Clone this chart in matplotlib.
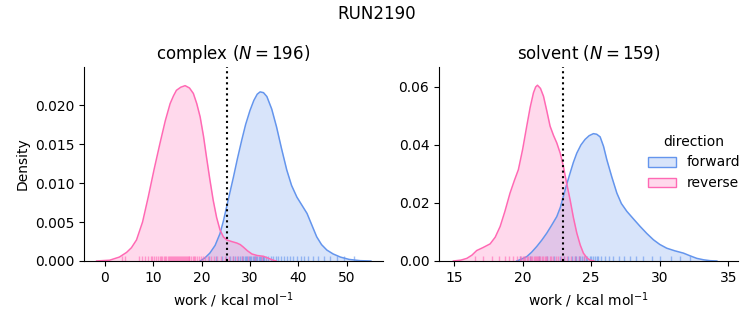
import numpy as np
import matplotlib.pyplot as plt
from matplotlib.colors import to_rgb
from matplotlib.patches import Patch

# density curves (x = work, y = density)
cx_fwd = [19.7, 20.7, 21.7, 22.8, 23.8, 24.5, 25.2, 25.9, 26.6, 27.4, 28.3, 29.1, 30.0, 30.8,
          31.5, 32.1, 32.8, 33.5, 34.5, 35.5, 36.5, 37.6, 38.6, 39.7, 40.8, 41.8, 42.8, 43.8,
          44.8, 45.9, 47.2, 48.7, 50.5, 52.8, 55.0]
cy_fwd = [0.0, 0.0004, 0.0010, 0.0020, 0.0035, 0.0051, 0.0070, 0.0089, 0.0108, 0.0131, 0.0155,
          0.0175, 0.0193, 0.0206, 0.0214, 0.0217, 0.0216, 0.0211, 0.0195, 0.0172, 0.0145, 0.0117,
          0.0097, 0.0082, 0.0071, 0.0061, 0.0046, 0.0031, 0.0021, 0.0014, 0.0009, 0.0005, 0.0002,
          0.00004, 0.0]
cx_rev = [-1.7, 1.0, 3.0, 4.5, 5.5, 6.55, 7.8, 8.97, 10.2, 11.4, 12.5, 13.5, 14.2, 14.8, 15.7,
          16.6, 17.5, 18.3, 19.0, 19.7, 20.4, 21.0, 21.7, 22.4, 23.1, 23.8, 24.5, 25.2, 26.2,
          27.3, 28.0, 28.6, 29.5, 30.4, 31.5, 32.8, 34.0, 34.8, 35.4]
cy_rev = [0.0, 0.0001, 0.0005, 0.0011, 0.0017, 0.0027, 0.0050, 0.0082, 0.0118, 0.0151, 0.0180,
          0.0202, 0.0212, 0.0219, 0.0223, 0.0225, 0.0222, 0.0215, 0.0202, 0.0185, 0.0160, 0.0134,
          0.0105, 0.0078, 0.0056, 0.0040, 0.0031, 0.0027, 0.0025, 0.0023, 0.0021, 0.0018, 0.0013,
          0.0009, 0.0007, 0.0006, 0.0003, 0.0001, 0.0]

sx_fwd = [19.57, 19.9, 20.30, 20.65, 21.03, 21.4, 21.76, 22.1, 22.49, 22.75, 22.97, 23.2, 23.46,
          23.7, 23.95, 24.25, 24.55, 24.85, 25.16, 25.4, 25.65, 25.9, 26.14, 26.5, 26.87, 27.2,
          27.60, 28.1, 28.57, 29.05, 29.54, 30.0, 30.51, 31.1, 31.73, 32.2, 32.70, 33.2, 33.67, 34.16]
sy_fwd = [0.0, 0.0006, 0.0015, 0.0030, 0.0050, 0.0072, 0.0096, 0.0122, 0.0153, 0.0185, 0.0223,
          0.0262, 0.0303, 0.0340, 0.0372, 0.0400, 0.0419, 0.0432, 0.0439, 0.0437, 0.0428, 0.0395,
          0.0349, 0.0290, 0.0234, 0.0198, 0.0171, 0.0144, 0.0119, 0.0095, 0.0073, 0.0057, 0.0044,
          0.0035, 0.0027, 0.0018, 0.0009, 0.0004, 0.0001, 0.0]
sx_rev = [14.95, 15.5, 15.93, 16.3, 16.65, 17.1, 17.63, 18.0, 18.36, 18.7, 19.08, 19.4, 19.69,
          20.0, 20.30, 20.55, 20.79, 20.95, 21.08, 21.3, 21.52, 21.75, 22.0, 22.25, 22.49, 22.75,
          22.97, 23.2, 23.46, 23.7, 23.95, 24.2, 24.43, 24.7, 24.92, 25.2]
sy_rev = [0.0, 0.0003, 0.0009, 0.0020, 0.0036, 0.0046, 0.0059, 0.0082, 0.0119, 0.0170, 0.0234,
          0.0278, 0.0315, 0.0385, 0.0465, 0.0530, 0.0580, 0.0600, 0.0606, 0.0595, 0.0568, 0.0520,
          0.0465, 0.0433, 0.0407, 0.0370, 0.0326, 0.0270, 0.0211, 0.0150, 0.0096, 0.0055, 0.0027,
          0.0010, 0.0003, 0.0]

# rug samples (approximate)
rug_c_rev = [3.5, 4.2, 7.0, 7.6, 8.3, 8.9, 9.5, 9.8, 10.1, 10.6, 11.0, 11.4, 11.7, 11.9, 12.3,
             12.5, 12.7, 13.0, 13.2, 13.4, 13.6, 13.8, 14.1, 14.3, 14.5, 14.8, 15.0, 15.1, 15.4,
             15.6, 15.7, 16.0, 16.2, 16.3, 16.6, 16.8, 16.9, 17.2, 17.4, 17.5, 17.9, 18.2, 18.4,
             18.6, 19.0, 19.4, 19.8, 20.3, 20.8, 21.3, 21.9, 22.5, 23.2, 24.0, 24.8, 25.6, 26.5,
             27.4, 28.3, 29.5, 31.0, 32.5]
rug_c_fwd = [21.5, 23.0, 24.2, 25.0, 25.8, 26.4, 27.0, 27.5, 28.0, 28.3, 28.5, 29.0, 29.2, 29.4,
             29.8, 30.0, 30.2, 30.6, 30.8, 31.0, 31.2, 31.4, 31.8, 32.0, 32.2, 32.6, 32.8, 33.0,
             33.4, 33.8, 34.3, 34.8, 35.3, 35.8, 36.4, 37.0, 37.6, 38.3, 39.0, 39.8, 40.5, 41.2,
             42.0, 43.0, 44.0, 45.3, 46.5, 48.0, 49.5, 51.5]
rug_s_rev = [16.5, 17.1, 17.8, 18.3, 18.7, 19.0, 19.3, 19.6, 19.8, 19.9, 20.0, 20.1, 20.2, 20.3,
             20.4, 20.5, 20.6, 20.7, 20.8, 20.9, 21.0, 21.05, 21.1, 21.2, 21.3, 21.4, 21.5, 21.6,
             21.7, 21.8, 22.0, 22.1, 22.2, 22.4, 22.6, 22.8, 23.0, 23.2, 23.5, 23.8, 24.1, 24.5]
rug_s_fwd = [19.8, 20.5, 21.2, 21.8, 22.3, 22.7, 23.0, 23.3, 23.6, 23.8, 23.9, 24.1, 24.2, 24.3,
             24.5, 24.6, 24.7, 24.9, 25.0, 25.1, 25.3, 25.4, 25.5, 25.7, 26.0, 26.3, 26.6, 27.0,
             27.4, 27.8, 28.3, 28.8, 29.4, 30.0, 30.8, 31.5, 32.2]

phases = ['complex', 'solvent']
n_samples = [196, 159]
cutoffs = [25.2, 22.97]
xlims = [(-4.3, 57.5), (13.9, 35.7)]
ylims = [(0, 0.0249), (0, 0.0669)]

c_fwd = 'cornflowerblue'
c_rev = 'hotpink'

fig = plt.figure(figsize=(7.53, 3.25), dpi=100)
ax1 = fig.add_axes([0.1116, 0.197, 0.397, 0.597])
ax2 = fig.add_axes([0.583, 0.197, 0.397, 0.597])

data = [((cx_fwd, cy_fwd, rug_c_fwd), (cx_rev, cy_rev, rug_c_rev)),
        ((sx_fwd, sy_fwd, rug_s_fwd), (sx_rev, sy_rev, rug_s_rev))]

for i, ax in enumerate([ax1, ax2]):
    for (x, y, rug), col in zip(data[i], [c_fwd, c_rev]):
        ax.fill_between(x, y, color=col, alpha=0.25, linewidth=0)
        ax.plot(x, y, color=col, lw=1.1, solid_joinstyle='round')
        ax.vlines(rug, 0, 0.025, color=col, alpha=0.6, lw=1,
                  transform=ax.get_xaxis_transform())
    ax.axvline(cutoffs[i], color='k', ls=':', lw=1.5)
    ax.set_xlim(*xlims[i])
    ax.set_ylim(*ylims[i])
    ax.set_title(phases[i] + r' ($N=%d$)' % n_samples[i], fontsize=12)
    ax.set_xlabel(r'work / kcal mol$^{-1}$')
    ax.spines['top'].set_visible(False)
    ax.spines['right'].set_visible(False)

ax1.set_ylabel('Density')
ax1.set_xticks([0, 10, 20, 30, 40, 50])
ax2.set_xticks([15, 20, 25, 30, 35])
ax1.set_yticks([0, 0.005, 0.01, 0.015, 0.02])
ax2.set_yticks([0, 0.02, 0.04, 0.06])

fig.suptitle('RUN2190', fontsize=12, y=0.985)

handles = [Patch(facecolor=(*to_rgb(col), 0.25), edgecolor=col) for col in [c_fwd, c_rev]]
fig.legend(handles, ['forward', 'reverse'], title='direction', frameon=False,
           loc='center right', bbox_to_anchor=(1.0, 0.5))

fig.savefig('out.png', dpi=100)
